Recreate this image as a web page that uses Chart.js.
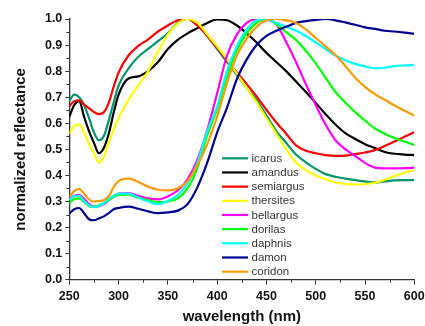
<!DOCTYPE html>
<html>
<head>
<meta charset="utf-8">
<script src="https://cdn.jsdelivr.net/npm/chart.js@4.4.0/dist/chart.umd.min.js"></script>
<style>
  html, body { margin: 0; padding: 0; background: #fff; }
  #wrap { width: 425px; height: 326px; position: relative; }
</style>
</head>
<body>
<div id="wrap"><canvas id="spec"></canvas></div>
<script>
// ===== 光谱数据（归一化反射率） =====
const wavelength = [250,255,260,265,270,275,280,285,290,295,300,310,320,330,340,350,360,370,380,390,400,410,420,430,440,450,460,470,480,490,500,510,520,530,540,550,560,570,580,590,600];

const icarus    = [0.685,0.71,0.70,0.67,0.62,0.565,0.535,0.55,0.61,0.68,0.745,0.81,0.855,0.885,0.915,0.945,0.985,1.0,0.975,0.935,0.885,0.835,0.785,0.735,0.69,0.63,0.57,0.525,0.48,0.45,0.425,0.405,0.395,0.388,0.382,0.377,0.373,0.377,0.381,0.382,0.382];
const amandus   = [0.625,0.67,0.685,0.625,0.57,0.525,0.485,0.505,0.56,0.64,0.71,0.772,0.78,0.80,0.835,0.885,0.92,0.945,0.965,0.985,0.998,0.995,0.975,0.945,0.91,0.87,0.835,0.80,0.76,0.72,0.678,0.635,0.595,0.562,0.54,0.52,0.505,0.49,0.483,0.48,0.478];
const semiargus = [0.665,0.685,0.688,0.672,0.658,0.643,0.635,0.642,0.678,0.74,0.795,0.86,0.897,0.922,0.952,0.975,0.995,1.0,0.975,0.935,0.89,0.84,0.795,0.75,0.703,0.652,0.603,0.56,0.515,0.495,0.485,0.478,0.475,0.476,0.482,0.488,0.497,0.513,0.53,0.548,0.566];
const thersites = [0.56,0.59,0.595,0.565,0.52,0.485,0.45,0.47,0.525,0.575,0.62,0.69,0.745,0.80,0.875,0.94,0.982,1.0,0.985,0.94,0.895,0.845,0.79,0.735,0.68,0.62,0.56,0.5,0.45,0.42,0.40,0.385,0.373,0.367,0.365,0.367,0.372,0.383,0.398,0.41,0.42];
const bellargus = [0.31,0.322,0.325,0.31,0.29,0.28,0.282,0.29,0.305,0.32,0.33,0.332,0.322,0.312,0.308,0.32,0.342,0.385,0.46,0.575,0.715,0.86,0.94,0.985,1.0,0.998,0.98,0.912,0.835,0.75,0.67,0.595,0.535,0.5,0.475,0.448,0.43,0.427,0.427,0.428,0.43];
const dorilas   = [0.293,0.31,0.312,0.298,0.283,0.28,0.285,0.293,0.305,0.318,0.325,0.326,0.315,0.305,0.298,0.30,0.312,0.35,0.43,0.555,0.655,0.78,0.88,0.945,0.985,1.0,0.98,0.95,0.92,0.878,0.83,0.775,0.72,0.68,0.643,0.61,0.58,0.56,0.543,0.53,0.517];
const daphnis   = [0.305,0.322,0.322,0.302,0.285,0.278,0.283,0.293,0.31,0.322,0.33,0.33,0.315,0.30,0.29,0.302,0.325,0.37,0.45,0.57,0.665,0.80,0.895,0.96,0.995,1.0,0.985,0.97,0.955,0.935,0.91,0.885,0.86,0.842,0.828,0.818,0.811,0.813,0.819,0.822,0.824];
const damon     = [0.254,0.27,0.275,0.255,0.232,0.228,0.235,0.243,0.255,0.27,0.275,0.28,0.272,0.262,0.255,0.258,0.265,0.29,0.355,0.45,0.565,0.66,0.77,0.845,0.90,0.935,0.955,0.97,0.985,0.992,0.997,1.0,0.995,0.987,0.978,0.968,0.962,0.955,0.952,0.948,0.943];
const coridon   = [0.318,0.34,0.348,0.33,0.308,0.30,0.302,0.305,0.32,0.355,0.378,0.388,0.375,0.357,0.345,0.343,0.35,0.378,0.44,0.52,0.625,0.755,0.86,0.925,0.97,0.995,1.0,0.995,0.985,0.96,0.928,0.895,0.862,0.82,0.775,0.74,0.712,0.69,0.668,0.648,0.63];

const speciesNames = ["icarus","amandus","semiargus","thersites","bellargus","dorilas","daphnis","damon","coridon"];
const speciesData  = [icarus, amandus, semiargus, thersites, bellargus, dorilas, daphnis, damon, coridon];
const speciesColor = ["#00966b","#000000","#ff0000","#ffff00","#ff00ff","#00ff00","#00ffff","#000090","#ff9900"];

const xTicks = [250,300,350,400,450,500,550,600];
const yTicks = [0,0.1,0.2,0.3,0.4,0.5,0.6,0.7,0.8,0.9,1.0];

// ===== 小刻度 + 图内图例 =====
const minorTicks = {
  id: "minorTicks",
  afterDraw(chart){
    const {ctx, chartArea:a, scales:{x, y}} = chart;
    ctx.save();
    ctx.strokeStyle = "#333"; ctx.lineWidth = 1;
    ctx.beginPath();
    for(let i=0;i<xTicks.length-1;i++){
      const px = Math.round(x.getPixelForValue((xTicks[i]+xTicks[i+1])/2)) + .5;
      ctx.moveTo(px, a.bottom); ctx.lineTo(px, a.bottom+3);
    }
    for(let i=0;i<yTicks.length-1;i++){
      const py = Math.round(y.getPixelForValue((yTicks[i]+yTicks[i+1])/2)) + .5;
      ctx.moveTo(a.left, py); ctx.lineTo(a.left-3, py);
    }
    ctx.stroke();
    ctx.restore();
  }
};

const insideLegend = {
  id: "insideLegend",
  afterDraw(chart){
    const ctx = chart.ctx;
    ctx.save();
    ctx.font = "11.5px 'Liberation Sans', Arial, sans-serif";
    ctx.textBaseline = "middle";
    ctx.fillStyle = "#333";
    speciesNames.forEach((name, i) => {
      const yy = 158.3 + i*14.17;
      ctx.strokeStyle = speciesColor[i];
      ctx.lineWidth = 2.2;
      ctx.beginPath(); ctx.moveTo(222, yy); ctx.lineTo(248, yy); ctx.stroke();
      ctx.fillText(name, 251.5, yy + .5);
    });
    ctx.restore();
  }
};

const tickFont = { family: "'Liberation Sans', Arial, sans-serif", size: 12.5, weight: "bold" };
const titleFont = { family: "'Liberation Sans', Arial, sans-serif", size: 15, weight: "bold" };

new Chart(document.getElementById("spec"), {
  type: "line",
  data: {
    labels: wavelength,
    datasets: speciesNames.map((name, i) => ({
      label: name,
      data: wavelength.map((w, k) => ({x: w, y: speciesData[i][k]})),
      borderColor: speciesColor[i],
      borderWidth: 2.2,
      pointRadius: 0,
      fill: false,
      cubicInterpolationMode: "monotone",
      order: speciesNames.length - i
    }))
  },
  options: {
    responsive: true, maintainAspectRatio: false, animation: false,
    layout: { padding: { left: 4, right: 10.7, top: 19, bottom: 0 } },
    plugins: { legend: { display: false }, tooltip: { enabled: false } },
    scales: {
      x: {
        type: "linear", min: 250, max: 600,
        afterBuildTicks: s => { s.ticks = xTicks.map(v => ({value: v})); },
        ticks: { color: "#111", font: tickFont, padding: 4, maxRotation: 0 },
        grid: { drawOnChartArea: false, tickLength: 5, tickColor: "#333" },
        border: { color: "#333", width: 1.3 },
        title: { display: true, text: "wavelength (nm)", color: "#111", font: titleFont, padding: { top: 0, bottom: 0 } },
        afterFit: s => { s.height = 46.3; s.paddingLeft = 0; s.paddingRight = 0; }
      },
      y: {
        min: 0, max: 1,
        afterBuildTicks: s => { s.ticks = yTicks.map(v => ({value: v})); },
        ticks: { color: "#111", font: tickFont, padding: 3, callback: v => v.toFixed(1) },
        grid: { drawOnChartArea: false, tickLength: 4, tickColor: "#333" },
        border: { color: "#333", width: 1.3 },
        title: { display: true, text: "normalized reflectance", color: "#111", font: titleFont, padding: { top: 8, bottom: 0 } },
        afterFit: s => { s.width = 65.3; s.paddingTop = 0; s.paddingBottom = 0; }
      }
    }
  },
  plugins: [minorTicks, insideLegend]
});
</script>
</body>
</html>
